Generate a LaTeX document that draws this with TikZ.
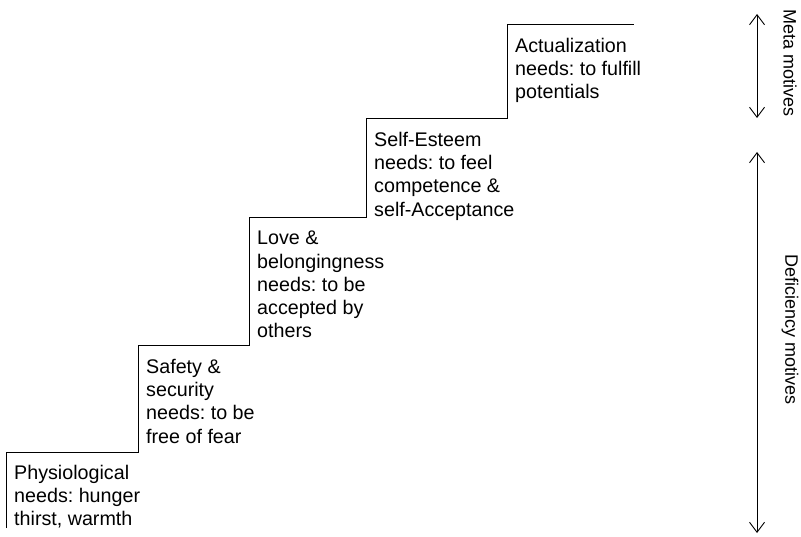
\documentclass[tikz,border=0pt]{standalone}
\usepackage{fontspec}
\setmainfont{Liberation Sans}
\usetikzlibrary{arrows.meta}
\begin{document}
\frenchspacing
\begin{tikzpicture}[
  x=1pt, y=-1pt,
  stair/.style={line width=1pt, line join=miter},
  lbl/.style={anchor=north west, inner sep=0pt, align=left, font=\fontsize{19.7}{23.2}\selectfont},
  span/.style={line width=0.9pt, {Straight Barb[length=10pt,width=15pt]}-{Straight Barb[length=10pt,width=15pt]}},
  side/.style={rotate=-90, inner sep=0pt, font=\fontsize{18}{22}\selectfont},
]
\useasboundingbox (0,0) rectangle (801,537);

% ---- steps: riser x / tread y / label ----
\foreach \x/\y/\txt [count=\i] in {
  6/452/{Physiological\\needs: hunger\\thirst, warmth},
  138/346/{Safety \&\\security\\needs: to be\\free of fear},
  249/218/{Love \&\\belongingness\\needs: to be\\accepted by\\others},
  366/119/{Self-Esteem\\needs: to feel\\competence \&\\self-Acceptance},
  507/25/{Actualization\\needs: to fulfill\\potentials}}{
  \coordinate (r\i) at (\x,\y);
  \node[lbl] (t\i) at (\x+8,\y+13) {\txt};
}
\coordinate (r0) at (6,528);   % floor
\coordinate (r6) at (634,25);  % top landing

\draw[stair] (r0) -- (r1) -| (r2) -| (r3) -| (r4) -| (r5) -- (r6);

% ---- motives ----
\coordinate (m1) at (757,14);
\coordinate (m2) at (757,118);
\coordinate (d1) at (757,152);
\coordinate (d2) at (757,533);
\draw[span] (m1) -- (m2);
\draw[span] (d1) -- (d2);
\node[side] (meta) at (790,63) {Meta motives};
\node[side] (defi) at (790,330) {Deficiency motives};

\end{tikzpicture}
\end{document}
